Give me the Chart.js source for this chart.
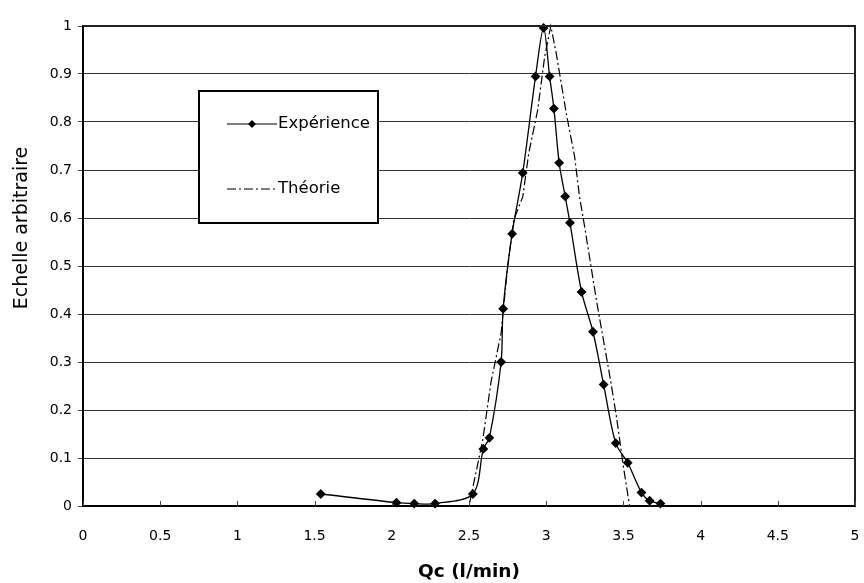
<!DOCTYPE html>
<html>
<head>
<meta charset="utf-8">
<script src="https://cdn.jsdelivr.net/npm/chart.js@4/dist/chart.umd.min.js"></script>
<style>
  html, body { margin: 0; padding: 0; background: #fff; }
  #wrap { width: 864px; height: 583px; }
</style>
</head>
<body>
<div id="wrap"><canvas id="c" width="864" height="583"></canvas></div>
<script>
// Expérience : débit Qc (l/min) et intensité mesurée
var expQc = [1.54, 2.03, 2.145, 2.28, 2.525, 2.593, 2.632, 2.708, 2.721, 2.779, 2.848, 2.931, 2.983,
  3.022, 3.05, 3.084, 3.123, 3.154, 3.229, 3.303, 3.372, 3.45, 3.528, 3.617, 3.67, 3.74];
var expVal = [0.025, 0.007, 0.005, 0.005, 0.025, 0.119, 0.142, 0.30, 0.411, 0.567, 0.694, 0.895, 0.996,
  0.895, 0.828, 0.715, 0.645, 0.590, 0.446, 0.363, 0.253, 0.131, 0.090, 0.028, 0.011, 0.005];

// Théorie
var theoQc = [0.1, 2.5, 2.589, 2.643, 2.708, 2.75, 2.79, 2.848, 2.887, 2.945, 2.99, 3.03,
  3.065, 3.13, 3.184, 3.216, 3.249, 3.325, 3.42, 3.455, 3.5, 3.54, 5];
var theoVal = [0, 0, 0.1375, 0.259, 0.36, 0.499, 0.596, 0.644, 0.735, 0.825, 0.936, 1.0,
  0.943, 0.818, 0.728, 0.644, 0.582, 0.429, 0.256, 0.186, 0.082, 0, 0];

var xTicks = [0, 0.5, 1, 1.5, 2, 2.5, 3, 3.5, 4, 4.5, 5];
var yTicks = [0, 0.1, 0.2, 0.3, 0.4, 0.5, 0.6, 0.7, 0.8, 0.9, 1];
var yTitle = 'Echelle arbitraire';

var FONT = '"DejaVu Sans", "Liberation Sans", sans-serif';

function pairs(xs, ys) {
  return xs.map(function (x, i) { return { x: x, y: ys[i] }; });
}

// frame, inner x tick marks, y title and the boxed legend
var framePlugin = {
  id: 'frame',
  afterDraw: function (chart) {
    var ctx = chart.ctx;
    var a = chart.chartArea;
    var xs = chart.scales.x;
    ctx.save();
    // top and right border
    ctx.strokeStyle = '#222';
    ctx.lineWidth = 2;
    ctx.beginPath();
    ctx.moveTo(a.left, a.top);
    ctx.lineTo(a.right, a.top);
    ctx.lineTo(a.right, a.bottom);
    ctx.stroke();
    // x tick marks pointing inward
    ctx.strokeStyle = '#444';
    ctx.lineWidth = 1;
    xTicks.forEach(function (v) {
      var px = Math.round(xs.getPixelForValue(v)) + 0.5;
      ctx.beginPath();
      ctx.moveTo(px, a.bottom);
      ctx.lineTo(px, a.bottom - 5);
      ctx.stroke();
    });

    // y title
    ctx.save();
    ctx.translate(22, 228);
    ctx.rotate(-Math.PI / 2);
    ctx.font = '19px ' + FONT;
    ctx.fillStyle = '#000';
    ctx.textAlign = 'center';
    ctx.textBaseline = 'middle';
    ctx.fillText(yTitle, 0, 0);
    ctx.restore();

    // legend box
    var bx = 199, by = 91, bw = 179, bh = 132;
    ctx.fillStyle = '#fff';
    ctx.fillRect(bx, by, bw, bh);
    ctx.strokeStyle = '#000';
    ctx.lineWidth = 2;
    ctx.strokeRect(bx, by, bw, bh);

    var ds = chart.data.datasets;
    var rows = [by + 33, by + 98];
    ctx.font = '16.5px ' + FONT;
    ctx.textBaseline = 'middle';
    ds.forEach(function (d, i) {
      var y = rows[i];
      ctx.strokeStyle = '#000';
      ctx.lineWidth = 1;
      ctx.setLineDash(d.borderDash || []);
      ctx.beginPath();
      ctx.moveTo(bx + 28, y);
      ctx.lineTo(bx + 78, y);
      ctx.stroke();
      ctx.setLineDash([]);
      if (d.pointRadius > 0) {
        ctx.fillStyle = '#000';
        ctx.beginPath();
        ctx.moveTo(bx + 53, y - 4);
        ctx.lineTo(bx + 57, y);
        ctx.lineTo(bx + 53, y + 4);
        ctx.lineTo(bx + 49, y);
        ctx.closePath();
        ctx.fill();
      }
      ctx.fillStyle = '#000';
      ctx.fillText(d.label, bx + 79, y);
    });
    ctx.restore();
  }
};

new Chart(document.getElementById('c'), {
  type: 'scatter',
  data: {
    datasets: [
      {
        label: 'Expérience',
        data: pairs(expQc, expVal),
        showLine: true,
        borderColor: '#000',
        backgroundColor: '#000',
        borderWidth: 1.3,
        tension: 0.3,
        pointStyle: 'rectRot',
        pointRadius: 4,
        pointHoverRadius: 4,
        clip: 6
      },
      {
        label: 'Théorie',
        data: pairs(theoQc, theoVal),
        showLine: true,
        borderColor: '#000',
        borderWidth: 1.2,
        borderDash: [9, 3, 2, 3],
        tension: 0,
        pointRadius: 0,
        clip: 6
      }
    ]
  },
  options: {
    responsive: false,
    animation: false,
    layout: { padding: { top: 26, right: 9, left: 0, bottom: 0 } },
    plugins: { legend: { display: false }, tooltip: { enabled: false } },
    scales: {
      x: {
        type: 'linear',
        min: 0,
        max: 5,
        afterBuildTicks: function (s) { s.ticks = xTicks.map(function (v) { return { value: v }; }); },
        afterFit: function (s) { s.height = 77; s.paddingLeft = 0; s.paddingRight = 0; },
        grid: { display: false, drawTicks: false },
        border: { display: true, color: '#000', width: 2 },
        ticks: {
          color: '#000', padding: 22, font: { family: FONT, size: 14 }, maxRotation: 0,
          callback: function (v) { return String(v); }
        },
        title: {
          display: true,
          text: 'Qc (l/min)',
          color: '#000',
          font: { family: FONT, size: 18.5, weight: 'bold' },
          padding: { top: 6, bottom: 0 }
        }
      },
      y: {
        type: 'linear',
        min: 0,
        max: 1,
        afterBuildTicks: function (s) { s.ticks = yTicks.map(function (v) { return { value: v }; }); },
        afterFit: function (s) { s.width = 83; s.paddingTop = 0; s.paddingBottom = 0; },
        grid: { color: '#333', lineWidth: 1, drawTicks: true, tickLength: 5, tickColor: '#444' },
        border: { display: true, color: '#000', width: 2 },
        ticks: {
          color: '#000', padding: 6, font: { family: FONT, size: 14 },
          callback: function (v) { return String(v); }
        },
        title: { display: false }
      }
    }
  },
  plugins: [framePlugin]
});
</script>
</body>
</html>
